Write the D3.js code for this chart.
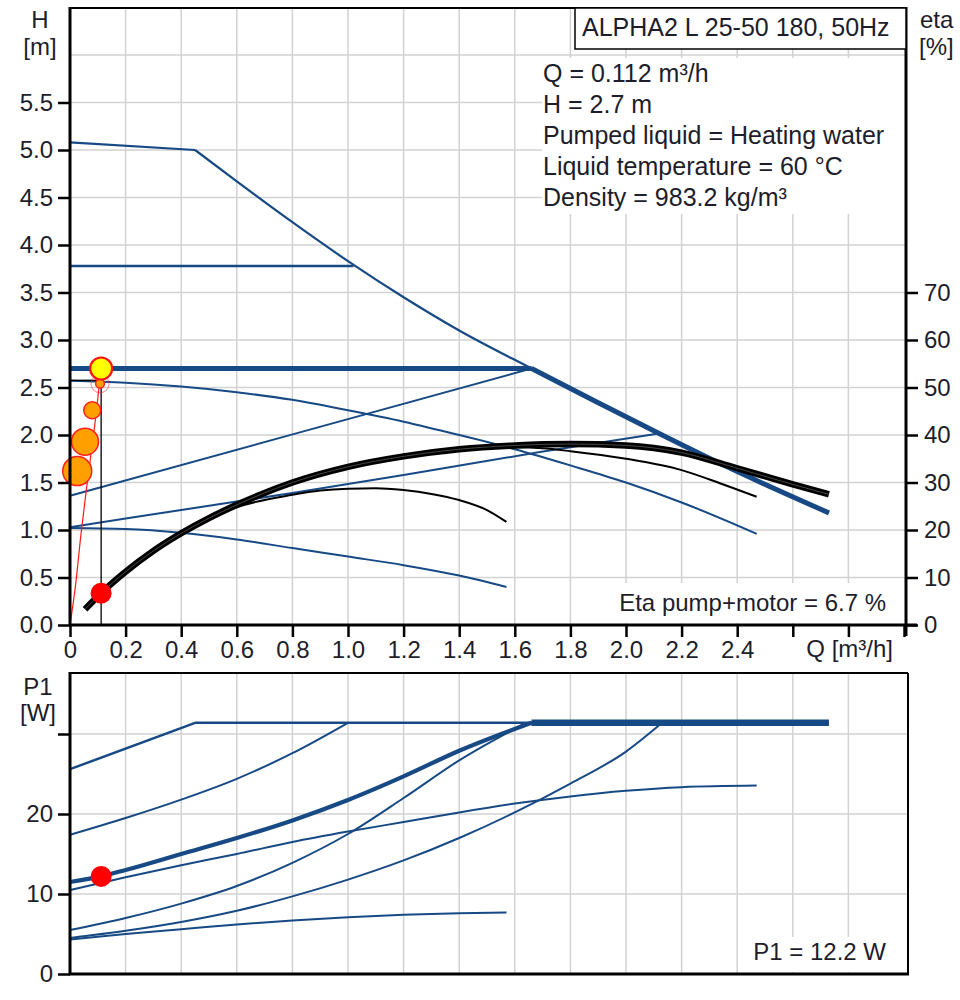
<!DOCTYPE html>
<html>
<head>
<meta charset="utf-8">
<script src="https://cdn.jsdelivr.net/npm/d3@7"></script>
<style>
  body { margin: 0; background: #fff; }
  svg text { font-family: "Liberation Sans", Arial, sans-serif; fill: #1d1d2b; }
</style>
</head>
<body>
<svg id="chart" width="960" height="1000"></svg>
<script>
// ---- Duty point ----
const dutyQ = 0.112, dutyH = 2.7, dutyEta = 6.7, dutyP1 = 12.2;

// ---- Axis ticks ----
const qTicks = [0, 0.2, 0.4, 0.6, 0.8, 1.0, 1.2, 1.4, 1.6, 1.8, 2.0, 2.2, 2.4, 2.6, 2.8, 3.0];
const qTickLabels = ["0", "0.2", "0.4", "0.6", "0.8", "1.0", "1.2", "1.4", "1.6", "1.8", "2.0", "2.2", "2.4", "", "", ""];
const hTicks = [0, 0.5, 1.0, 1.5, 2.0, 2.5, 3.0, 3.5, 4.0, 4.5, 5.0, 5.5];
const hGrid = [0.5, 1.0, 1.5, 2.0, 2.5, 3.0, 3.5, 4.0, 4.5, 5.0, 5.5, 6.0];
const etaTicks = [0, 10, 20, 30, 40, 50, 60, 70];
const pTicks = [0, 10, 20, 30];
const pTickLabels = ["0", "10", "20", ""];
const qGrid = [0.2, 0.4, 0.6, 0.8, 1.0, 1.2, 1.4, 1.6, 1.8, 2.0, 2.2, 2.4, 2.6, 2.8];

// ---- H(Q) curves [m] ----
// max curve: flat start up to the knee, then the falling branch
const qMaxFlat = [0, 0.45];
const hMaxFlat = [5.08, 5.0];
const qMax = [0.45, 0.6, 0.8, 1.0, 1.2, 1.4, 1.66, 1.9, 2.13, 2.36, 2.73];
const hMax = [5.0, 4.67, 4.24, 3.83, 3.45, 3.1, 2.7, 2.34, 2.0, 1.67, 1.18];
// selected constant-pressure setting, then along the max curve
const qSelFlat = [0, 1.66];
const hSelFlat = [2.7, 2.7];
const qSel = [1.66, 1.9, 2.13, 2.36, 2.73];
const hSel = [2.7, 2.34, 2.0, 1.67, 1.18];
const qCP2 = [0, 1.02];
const hCP2 = [3.78, 3.78];
const qPP2 = [0, 0.83, 1.66];
const hPP2 = [1.36, 2.03, 2.7];
const qII = [0, 0.2, 0.4, 0.6, 0.8, 1.0, 1.2, 1.4, 1.6, 1.8, 2.0, 2.2, 2.47];
const hII = [2.57, 2.55, 2.51, 2.45, 2.37, 2.26, 2.14, 2.0, 1.85, 1.68, 1.5, 1.29, 0.96];
const qPP1 = [0, 0.4, 0.8, 1.2, 1.69, 2.13];
const hPP1 = [1.03, 1.21, 1.39, 1.58, 1.82, 2.02];
const qI = [0, 0.2, 0.4, 0.6, 0.8, 1.0, 1.2, 1.4, 1.57];
const hI = [1.02, 1.01, 0.97, 0.9, 0.81, 0.72, 0.63, 0.52, 0.40];

// ---- System curve through the duty point ----
const qSys = [0, 0.02, 0.04, 0.06, 0.08, 0.095, 0.105, 0.112];
const hSys = [0, 0.42, 0.97, 1.45, 1.9, 2.25, 2.52, 2.7];

// ---- Load profile points ----
const loadQ = [0.026, 0.054, 0.08, 0.108];
const loadH = [1.62, 1.93, 2.26, 2.54];
const loadShare = [44, 38, 15, 4];

// ---- Efficiency curves [%] ----
const qEtaMain = [0.054, 0.112, 0.2, 0.3, 0.4, 0.5, 0.6, 0.8, 1.0, 1.2, 1.4, 1.6, 1.8, 2.0, 2.2, 2.4, 2.6, 2.73];
const etaMain = [3.3, 6.7, 11.2, 15.6, 19.3, 22.5, 25.3, 30.0, 33.3, 35.5, 37.0, 37.8, 38.1, 37.8, 36.3, 33.0, 29.6, 27.5];
const qEtaII = [1.0, 1.2, 1.4, 1.6, 1.7, 1.8, 2.0, 2.2, 2.34, 2.47];
const etaII = [33.2, 35.4, 36.9, 37.4, 37.2, 36.6, 35.0, 32.6, 29.8, 27.0];
const qEtaI = [0.4, 0.6, 0.8, 0.9, 1.0, 1.1, 1.2, 1.3, 1.4, 1.5, 1.57];
const etaI = [19.3, 24.8, 27.4, 28.3, 28.7, 28.8, 28.4, 27.6, 26.3, 24.2, 21.7];

// ---- P1(Q) curves [W] ----
const qPMax = [0, 0.45, 2.73];
const pMax = [25.6, 31.4, 31.4];
const qPCP2 = [0, 0.2, 0.4, 0.6, 0.8, 1.0];
const pCP2 = [17.4, 19.5, 21.8, 24.4, 27.6, 31.4];
const qPSel = [0, 0.112, 0.2, 0.4, 0.6, 0.8, 1.0, 1.2, 1.4, 1.66];
const pSel = [11.5, 12.2, 13.0, 15.0, 17.0, 19.2, 21.75, 24.7, 27.9, 31.4];
const qPSelFlat = [1.66, 2.73];
const pSelFlat = [31.4, 31.4];
const qPII = [0, 0.2, 0.4, 0.6, 0.8, 1.0, 1.2, 1.4, 1.6, 1.8, 2.0, 2.2, 2.47];
const pII = [10.5, 12.1, 13.6, 15.0, 16.5, 17.8, 19.0, 20.2, 21.3, 22.2, 22.9, 23.35, 23.55];
const qPPP2 = [0, 0.2, 0.4, 0.6, 0.8, 1.0, 1.2, 1.4, 1.64];
const pPP2 = [5.5, 7.0, 8.8, 11.0, 13.9, 17.5, 22.0, 26.7, 31.4];
const qPPP1 = [0, 0.2, 0.4, 0.6, 0.8, 1.0, 1.2, 1.4, 1.6, 1.8, 2.0, 2.13];
const pPP1 = [4.5, 5.4, 6.5, 7.9, 9.7, 11.8, 14.2, 17.0, 20.2, 23.8, 27.8, 31.4];
const qPI = [0, 0.2, 0.4, 0.6, 0.8, 1.0, 1.2, 1.4, 1.57];
const pI = [4.3, 5.0, 5.6, 6.2, 6.7, 7.1, 7.4, 7.6, 7.7];

// ---- Texts ----
const titleText = "ALPHA2 L 25-50 180, 50Hz";
const infoLines = [
  `Q = ${dutyQ} m³/h`,
  `H = ${dutyH} m`,
  "Pumped liquid = Heating water",
  "Liquid temperature = 60 °C",
  "Density = 983.2 kg/m³"
];

// ---- Layout ----
const BLUE = "#174a84";
const GRID = "#d2d2d2";
const svg = d3.select("#chart");

const x = d3.scaleLinear().domain([0, 3.0]).range([70, 904]);
const yH = d3.scaleLinear().domain([0, 6]).range([625, 55]);
const yEta = d3.scaleLinear().domain([0, 70]).range([625, 292.5]);
const yP = d3.scaleLinear().domain([0, 30]).range([974, 734]);

const topL = 70, topR = 906, topT = 8, topB = 625;
const botL = 70, botR = 908, botT = 673, botB = 974;

function zip(a, b) { return a.map((v, i) => [v, b[i]]); }

function curve(g, xs, ys, yScale, color, width, interp) {
  g.append("path")
    .datum(zip(xs, ys))
    .attr("fill", "none")
    .attr("stroke", color)
    .attr("stroke-width", width)
    .attr("stroke-linejoin", "round")
    .attr("stroke-linecap", "butt")
    .attr("d", d3.line()
      .x(d => x(d[0]))
      .y(d => yScale(d[1]))
      .curve(interp || d3.curveMonotoneX));
}

// ================= Upper chart: H and eta =================
const gTop = svg.append("g");

// grid
gTop.append("g").selectAll("line").data(qGrid).join("line")
  .attr("x1", d => x(d)).attr("x2", d => x(d))
  .attr("y1", topT).attr("y2", topB)
  .attr("stroke", GRID).attr("stroke-width", 1.5);
gTop.append("g").selectAll("line").data(hGrid).join("line")
  .attr("x1", topL).attr("x2", topR)
  .attr("y1", d => yH(d)).attr("y2", d => yH(d))
  .attr("stroke", GRID).attr("stroke-width", 1.5);

// white panels behind annotations
gTop.append("rect").attr("x", 542).attr("y", 58).attr("width", topR - 542).attr("height", 156).attr("fill", "#fff");
gTop.append("rect").attr("x", 600).attr("y", 583).attr("width", 296).attr("height", 40).attr("fill", "#fff");

// blue H curves
curve(gTop, qI, hI, yH, BLUE, 2);
curve(gTop, qPP1, hPP1, yH, BLUE, 2);
curve(gTop, qII, hII, yH, BLUE, 2);
curve(gTop, qPP2, hPP2, yH, BLUE, 2, d3.curveLinear);
curve(gTop, qCP2, hCP2, yH, BLUE, 2.5, d3.curveLinear);
curve(gTop, qMaxFlat, hMaxFlat, yH, BLUE, 2.2, d3.curveLinear);
curve(gTop, qMax, hMax, yH, BLUE, 2.2);
curve(gTop, qSelFlat, hSelFlat, yH, BLUE, 5, d3.curveLinear);
curve(gTop, qSel, hSel, yH, BLUE, 5);

// efficiency curves
curve(gTop, qEtaI, etaI, yEta, "#000", 2);
curve(gTop, qEtaII, etaII, yEta, "#000", 2);
curve(gTop, qEtaMain, etaMain, yEta, "#000", 6.5);
curve(gTop, qEtaMain, etaMain, yEta, "rgba(255,255,255,0.35)", 0.8);

// duty point guides
gTop.append("line")
  .attr("x1", x(dutyQ)).attr("x2", x(dutyQ))
  .attr("y1", yH(0)).attr("y2", yH(dutyH))
  .attr("stroke", "#000").attr("stroke-width", 1.3);
gTop.append("line")
  .attr("x1", x(0)).attr("x2", x(dutyQ))
  .attr("y1", yH(2.575)).attr("y2", yH(2.575))
  .attr("stroke", "#000").attr("stroke-width", 1.5);

// system curve
curve(gTop, qSys, hSys, yH, "#ff1a1a", 1.2);

// load profile circles
const rLoad = d3.scaleSqrt().domain([0, d3.max(loadShare)]).range([0, 14.5]);
gTop.append("circle")
  .attr("cx", x(loadQ[3])).attr("cy", yH(loadH[3])).attr("r", 9)
  .attr("fill", "none").attr("stroke", "rgba(255,40,40,0.45)").attr("stroke-width", 1.2);
gTop.append("g").selectAll("circle").data(loadQ).join("circle")
  .attr("cx", d => x(d))
  .attr("cy", (d, i) => yH(loadH[i]))
  .attr("r", (d, i) => rLoad(loadShare[i]))
  .attr("fill", "#ffa000")
  .attr("stroke", "#ff2020").attr("stroke-width", 1.5);

// duty point markers
gTop.append("circle")
  .attr("cx", x(dutyQ)).attr("cy", yH(dutyH)).attr("r", 11)
  .attr("fill", "#ffff00").attr("stroke", "#ff1010").attr("stroke-width", 2.2);
gTop.append("circle")
  .attr("cx", x(dutyQ)).attr("cy", yEta(dutyEta)).attr("r", 10.5)
  .attr("fill", "#ff0000");

// axes frame
gTop.append("line").attr("x1", topL).attr("x2", topR).attr("y1", topT).attr("y2", topT)
  .attr("stroke", "#000").attr("stroke-width", 2);
gTop.append("line").attr("x1", topL).attr("x2", topL).attr("y1", topT - 1).attr("y2", topB)
  .attr("stroke", "#000").attr("stroke-width", 3);
gTop.append("line").attr("x1", topR).attr("x2", topR).attr("y1", topT - 1).attr("y2", 636)
  .attr("stroke", "#000").attr("stroke-width", 3);
gTop.append("line").attr("x1", topL - 1).attr("x2", 917).attr("y1", topB).attr("y2", topB)
  .attr("stroke", "#000").attr("stroke-width", 3);

function styleAxis(g) {
  g.select(".domain").remove();
  g.selectAll(".tick line").attr("stroke", "#000").attr("stroke-width", 2.5);
  g.selectAll(".tick text")
    .attr("font-size", 24)
    .attr("font-family", '"Liberation Sans", Arial, sans-serif')
    .attr("fill", "#1d1d2b");
}

// left H axis
gTop.append("g").attr("transform", `translate(${topL},0)`)
  .call(d3.axisLeft(yH).tickValues(hTicks).tickFormat(d3.format(".1f")).tickSize(12).tickPadding(5))
  .call(styleAxis);

// right eta axis
gTop.append("g").attr("transform", `translate(${topR},0)`)
  .call(d3.axisRight(yEta).tickValues(etaTicks).tickFormat(d3.format("d")).tickSize(12).tickPadding(6))
  .call(styleAxis);

// bottom Q axis
gTop.append("g").attr("transform", `translate(0,${topB})`)
  .call(d3.axisBottom(x).tickValues(qTicks).tickFormat((d, i) => qTickLabels[i]).tickSize(12).tickPadding(4))
  .call(styleAxis);

// title box
gTop.append("rect").attr("x", 575).attr("y", topT).attr("width", topR - 575).attr("height", 41)
  .attr("fill", "#fff").attr("stroke", "#000").attr("stroke-width", 1.5);
gTop.append("text").attr("x", 582).attr("y", 36).attr("font-size", 25).text(titleText);

// info lines
gTop.append("g").selectAll("text").data(infoLines).join("text")
  .attr("x", 543).attr("y", (d, i) => 82 + i * 31)
  .attr("font-size", 25).text(d => d);

// axis titles
gTop.append("text").attr("x", 40).attr("y", 28).attr("text-anchor", "middle").attr("font-size", 24).text("H");
gTop.append("text").attr("x", 40).attr("y", 55).attr("text-anchor", "middle").attr("font-size", 24).text("[m]");
gTop.append("text").attr("x", 920).attr("y", 28).attr("font-size", 24).text("eta");
gTop.append("text").attr("x", 919).attr("y", 55).attr("font-size", 24).text("[%]");
gTop.append("text").attr("x", 893).attr("y", 657).attr("text-anchor", "end").attr("font-size", 24).text("Q [m³/h]");
gTop.append("text").attr("x", 886).attr("y", 611).attr("text-anchor", "end").attr("font-size", 24)
  .text(`Eta pump+motor = ${dutyEta} %`);

// ================= Lower chart: P1 =================
const gBot = svg.append("g");

gBot.append("g").selectAll("line").data(qGrid).join("line")
  .attr("x1", d => x(d)).attr("x2", d => x(d))
  .attr("y1", botT).attr("y2", botB)
  .attr("stroke", GRID).attr("stroke-width", 1.5);
gBot.append("g").selectAll("line").data(pTicks.slice(1)).join("line")
  .attr("x1", botL).attr("x2", botR)
  .attr("y1", d => yP(d)).attr("y2", d => yP(d))
  .attr("stroke", GRID).attr("stroke-width", 1.5);

gBot.append("rect").attr("x", 745).attr("y", 937).attr("width", 150).attr("height", 35).attr("fill", "#fff");

curve(gBot, qPI, pI, yP, BLUE, 2);
curve(gBot, qPPP1, pPP1, yP, BLUE, 2);
curve(gBot, qPPP2, pPP2, yP, BLUE, 2);
curve(gBot, qPII, pII, yP, BLUE, 2);
curve(gBot, qPCP2, pCP2, yP, BLUE, 2);
curve(gBot, qPMax, pMax, yP, BLUE, 2.5, d3.curveLinear);
curve(gBot, qPSel, pSel, yP, BLUE, 4.2);
curve(gBot, qPSelFlat, pSelFlat, yP, BLUE, 6.5, d3.curveLinear);

gBot.append("circle")
  .attr("cx", x(dutyQ)).attr("cy", yP(dutyP1)).attr("r", 10.5)
  .attr("fill", "#ff0000");

// frame
gBot.append("line").attr("x1", botL).attr("x2", botR).attr("y1", botT).attr("y2", botT)
  .attr("stroke", "#000").attr("stroke-width", 2);
gBot.append("line").attr("x1", botR).attr("x2", botR).attr("y1", botT).attr("y2", botB)
  .attr("stroke", "#000").attr("stroke-width", 2);
gBot.append("line").attr("x1", botL).attr("x2", botL).attr("y1", botT - 1).attr("y2", botB + 1)
  .attr("stroke", "#000").attr("stroke-width", 3);
gBot.append("line").attr("x1", botL - 1).attr("x2", botR + 1).attr("y1", botB).attr("y2", botB)
  .attr("stroke", "#000").attr("stroke-width", 3);

gBot.append("g").attr("transform", `translate(${botL},0)`)
  .call(d3.axisLeft(yP).tickValues(pTicks).tickFormat((d, i) => pTickLabels[i]).tickSize(12).tickPadding(5))
  .call(styleAxis);

gBot.append("text").attr("x", 38).attr("y", 695).attr("text-anchor", "middle").attr("font-size", 24).text("P1");
gBot.append("text").attr("x", 38).attr("y", 721).attr("text-anchor", "middle").attr("font-size", 24).text("[W]");
gBot.append("text").attr("x", 886).attr("y", 960).attr("text-anchor", "end").attr("font-size", 24)
  .text(`P1 = ${dutyP1} W`);
</script>
</body>
</html>
